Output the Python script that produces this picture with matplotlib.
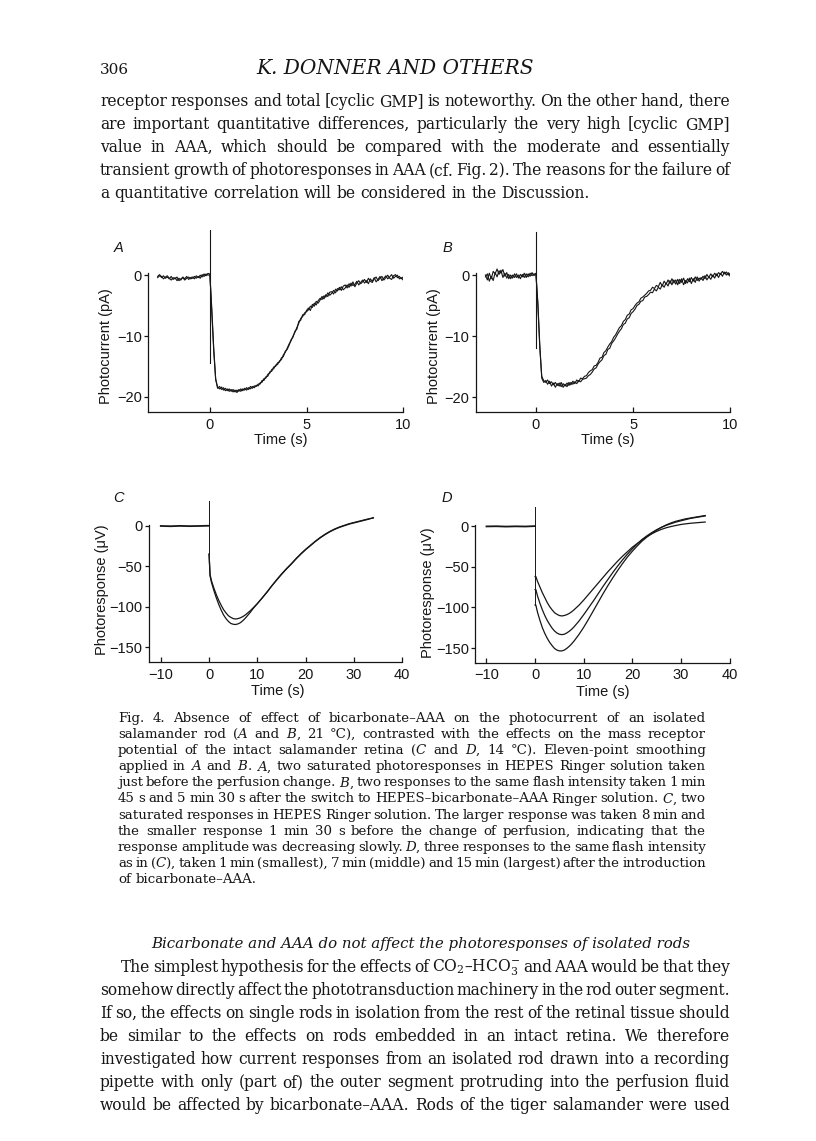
import numpy as np
import matplotlib
matplotlib.use('Agg')
import matplotlib.pyplot as plt
from matplotlib.transforms import IdentityTransform

# ---------------- data ----------------
# Panel A: isolated rod, HEPES Ringer (two traces), pA
A_BASE_1 = [-0.2, 0.1, -0.4, -0.1, -0.5, -0.3, -0.6, -0.2, -0.7, -0.4, -0.9, -0.5, -0.8, -0.3,
            -0.6, -0.2, -0.7, -0.4, -0.3, -0.6, -0.1, -0.4, 0.0, -0.3, 0.2, -0.1, 0.3, 0.2]
A_BASE_2 = [-0.4, -0.1, -0.2, -0.6, -0.3, -0.1, -0.5, -0.8, -0.4, -0.6, -0.3, -0.9, -0.6, -0.4,
            -0.8, -0.5, -0.3, -0.6, -0.5, -0.2, -0.5, -0.2, -0.5, 0.1, -0.2, 0.2, 0.0, 0.1]
A_RESP_1 = [-6.0, -12.5, -17.2, -18.4, -18.7, -18.4, -18.9, -18.6, -19.0, -18.7,
            -19.1, -18.8, -19.2, -18.9, -19.1, -18.7, -19.0, -18.6, -18.9, -18.5,
            -18.7, -18.3, -18.5, -18.1, -18.2, -17.7, -17.6, -17.0, -16.9, -16.3,
            -16.1, -15.5, -15.4, -14.8, -14.7, -14.1, -13.9, -13.1, -12.7, -12.0,
            -11.3, -10.8, -10.0, -9.4, -8.6, -7.9, -7.1, -6.8, -6.2, -6.0,
            -5.7, -5.1, -5.3, -4.6, -4.9, -4.2, -3.8, -4.0, -3.4, -3.6,
            -2.9, -3.3, -3.0, -2.5, -2.9, -2.2, -2.4, -1.9, -2.4, -2.1,
            -1.6, -2.0, -1.3, -1.7, -1.5, -1.0, -1.6, -1.2, -0.8, -1.3,
            -0.9, -1.4, -0.6, -1.0, -0.4, -1.1, -0.7, -0.2, -0.9, -0.5,
            -0.1, -0.6, -0.3, 0.1, -0.5, -0.2, 0.0, -0.6, -0.4, -0.8]
A_RESP_2 = [-5.5, -12.0, -17.0, -18.6, -18.3, -18.8, -18.5, -19.0, -18.7, -19.1,
            -18.8, -19.2, -18.9, -19.3, -18.8, -19.1, -18.7, -18.9, -18.5, -18.8,
            -18.3, -18.6, -18.2, -18.3, -17.9, -17.9, -17.3, -17.3, -16.7, -16.6,
            -15.9, -15.8, -15.1, -15.0, -14.4, -14.3, -13.6, -13.4, -12.5, -12.2,
            -11.5, -10.6, -10.2, -9.2, -8.9, -7.6, -7.4, -6.5, -6.5, -5.8,
            -5.4, -5.8, -4.8, -5.1, -4.3, -4.6, -4.1, -3.5, -3.9, -3.2,
            -3.5, -2.8, -2.7, -3.1, -2.3, -2.6, -2.0, -2.5, -1.8, -1.6,
            -2.1, -1.4, -1.8, -1.1, -1.9, -1.3, -0.9, -1.4, -1.1, -0.7,
            -1.2, -0.5, -1.0, -1.2, -0.6, -0.3, -0.9, -0.5, -0.2, -0.8,
            -0.4, 0.0, -0.5, -0.7, -0.1, 0.1, -0.4, -0.2, -0.6, -0.3]
A_BASE_START, A_END = -2.7, 10.0
A_ARTIFACT = [7.5, -14.5]

# Panel B: after switch to HEPES-bicarbonate-AAA (two traces), pA
B_BASE_1 = [0.0, -0.8, 0.3, -0.6, 0.6, 0.2, 1.0, 0.1, 0.8, -0.4, 0.3, -0.5, 0.1, -0.6,
            0.0, -0.4, 0.2, -0.5, 0.1, -0.3, 0.3, -0.4, 0.2, -0.2, 0.4, -0.1, 0.3]
B_BASE_2 = [-0.3, 0.2, -1.0, -0.2, -0.9, 0.4, -0.3, 0.7, 0.3, 0.9, -0.2, 0.4, -0.6, 0.0,
            -0.5, 0.2, -0.4, 0.0, -0.6, 0.1, -0.4, 0.2, -0.3, 0.3, -0.1, 0.2, 0.1]
B_RESP_1 = [-5.0, -12.0, -16.6, -17.3, -17.6, -17.2, -17.8, -17.5, -18.0, -17.6,
            -18.1, -17.7, -18.3, -17.8, -18.2, -17.7, -18.1, -17.6, -17.9, -17.5,
            -17.8, -17.3, -17.5, -17.1, -17.0, -16.9, -16.5, -16.3, -15.9, -15.4,
            -15.2, -14.6, -14.2, -13.9, -13.2, -13.0, -12.2, -12.0, -11.2, -10.8,
            -10.3, -9.7, -9.2, -8.8, -8.1, -7.9, -7.2, -7.0, -6.3, -6.0,
            -5.6, -5.0, -4.8, -4.3, -4.2, -3.6, -3.5, -3.2, -2.8, -2.9,
            -2.3, -2.6, -2.0, -2.3, -1.6, -2.0, -1.3, -1.8, -0.9, -1.6,
            -0.8, -1.5, -0.7, -1.4, -0.6, -1.6, -0.9, -1.3, -0.5, -1.4,
            -0.6, -1.2, -0.3, -1.0, -0.4, -0.9, -0.1, -0.8, -0.3, -0.7,
            0.0, -0.5, 0.2, -0.4, 0.3, -0.2, 0.5, 0.0, 0.4, -0.2]
B_RESP_2 = [-4.5, -11.5, -16.9, -17.6, -17.3, -17.9, -17.4, -18.2, -17.7, -18.4,
            -17.8, -18.2, -17.6, -18.4, -17.9, -18.3, -17.6, -18.0, -17.4, -17.8,
            -17.2, -17.5, -16.9, -17.0, -16.6, -16.5, -16.0, -15.7, -15.5, -14.9,
            -14.8, -14.3, -13.6, -13.5, -12.7, -12.4, -11.8, -11.3, -10.9, -10.2,
            -9.8, -9.2, -8.6, -8.3, -7.6, -7.3, -6.6, -6.4, -5.7, -5.5,
            -5.0, -4.6, -4.4, -3.8, -3.6, -3.3, -3.0, -2.6, -2.5, -2.0,
            -2.2, -1.7, -1.9, -1.2, -1.8, -1.0, -1.5, -0.8, -1.4, -0.6,
            -1.3, -0.8, -1.6, -0.7, -1.2, -0.5, -1.4, -0.6, -1.1, -0.4,
            -1.0, -0.3, -0.9, -0.5, -0.7, -0.2, -0.6, 0.1, -0.4, 0.2,
            -0.3, 0.3, -0.1, 0.4, 0.1, 0.6, 0.2, 0.5, 0.0, 0.3]
B_BASE_START, B_END = -2.6, 10.0
B_ARTIFACT = [7.0, -11.9]

# Panel C: mass receptor potential, HEPES Ringer (two responses), uV
C_BASE_T = [-10, -8, -6, -4, -2, 0]
C_BASE_V = [-0.3, -0.6, -0.2, -0.5, -0.3, 0.0]
C_T = [0.0, 0.2, 0.5, 1, 1.5, 2, 2.5, 3, 3.5, 4, 4.5, 5, 5.5, 6, 6.5, 7, 7.5, 8, 8.5, 9, 9.5, 10,
       11, 12, 13, 14, 15, 16, 17, 18, 19, 20, 21, 22, 23, 24, 25, 26, 27, 28, 29, 30, 31, 32, 33, 34]
C_LARGE = [-35, -62, -70, -80, -89, -97, -104, -110, -114.5, -118, -120.5, -121.5, -121.8, -121,
           -119.5, -117, -114, -110.5, -107, -103, -99.5, -96, -89, -82, -74, -67, -60, -53.5, -47.5,
           -41, -35, -29.5, -24.5, -19.5, -15, -11, -7.5, -4.5, -2, 0, 2, 3.5, 5, 6.5, 8, 10]
C_SMALL = [-35, -60, -68, -77, -85, -92, -98, -103.5, -107.5, -111, -113, -114.5, -115, -114.5,
           -113.5, -112, -110, -107.5, -105, -102, -99, -96, -89, -81.5, -74, -66.5, -59.5, -53,
           -47, -40.5, -34.5, -29, -24, -19, -14.5, -10.5, -7, -4, -1.5, 0.5, 2.5, 4, 5.5, 7, 8.5, 9.5]
C_ARTIFACT = [31, -35]

# Panel D: after bicarbonate-AAA, 1 min (smallest), 7 min (middle), 15 min (largest), uV
D_BASE_T = [-10, -8, -6, -4, -2, 0]
D_BASE_V = [-0.4, -0.2, -0.6, -0.3, -0.5, 0.0]
D_T = [0.15, 0.5, 1, 1.5, 2, 2.5, 3, 3.5, 4, 4.5, 5, 5.5, 6, 6.5, 7, 7.5, 8, 9, 10, 11, 12, 13,
       14, 15, 16, 17, 18, 19, 20, 21, 22, 23, 24, 25, 26, 27, 28, 29, 30, 31, 32, 33, 34, 35]
D_1MIN = [-62, -68, -75, -82, -88, -94, -99, -103, -106.5, -108.5, -110, -110.5, -110, -109,
          -107.5, -105.5, -103, -97.5, -91, -84, -77, -70, -63, -56, -49.5, -43, -37, -31.5, -26,
          -21.5, -17, -13, -9.5, -6.5, -4, -2, -0.5, 0.8, 2, 2.8, 3.5, 4, 4.5, 5]
D_7MIN = [-78, -86, -95, -103, -110, -116, -121, -125.5, -129, -131.5, -133, -133.5, -133, -131.5,
          -129.5, -127, -124, -117, -109, -100.5, -92, -83, -74, -65.5, -57, -49, -41.5, -34.5,
          -28, -22, -16.5, -12, -8, -4.5, -1.5, 1, 3, 5, 6.5, 8, 9.5, 10.5, 11.5, 12.5]
D_15MIN = [-97, -106, -116, -125, -132, -138, -143, -147, -150.5, -152.5, -153.5, -153.5, -152.5,
           -150.5, -148, -145, -141.5, -133.5, -124.5, -114.5, -104, -93.5, -83, -73, -63.5, -54.5,
           -46, -38, -31, -24.5, -18.5, -13.5, -9, -5, -1.5, 1.5, 4, 6, 7.5, 9, 10, 11, 12, 13]
D_ARTIFACT = [23, -97]

AB_XTICKS = [0, 5, 10]
AB_YTICKS = [0, -10, -20]
CD_XTICKS = [-10, 0, 10, 20, 30, 40]
CD_YTICKS = [0, -50, -100, -150]

# ---------------- text ----------------
HEADER_NUM = "306"
HEADER_TITLE = "K. DONNER AND OTHERS"
TOP_LINES = [
    "receptor responses and total [cyclic GMP] is noteworthy. On the other hand, there",
    "are important quantitative differences, particularly the very high [cyclic GMP]",
    "value in AAA, which should be compared with the moderate and essentially",
    "transient growth of photoresponses in AAA (cf. Fig. 2). The reasons for the failure of",
    "a quantitative correlation will be considered in the Discussion.",
]
CAPTION_LINES = [
    "Fig. 4. Absence of effect of bicarbonate\u2013AAA on the photocurrent of an isolated",
    "salamander rod ($A$ and $B$, 21 \u00b0C), contrasted with the effects on the mass receptor",
    "potential of the intact salamander retina ($C$ and $D$, 14 \u00b0C). Eleven-point smoothing",
    "applied in $A$ and $B$. $A$, two saturated photoresponses in HEPES Ringer solution taken",
    "just before the perfusion change. $B$, two responses to the same flash intensity taken 1 min",
    "45 s and 5 min 30 s after the switch to HEPES\u2013bicarbonate\u2013AAA Ringer solution. $C$, two",
    "saturated responses in HEPES Ringer solution. The larger response was taken 8 min and",
    "the smaller response 1 min 30 s before the change of perfusion, indicating that the",
    "response amplitude was decreasing slowly. $D$, three responses to the same flash intensity",
    "as in ($C$), taken 1 min (smallest), 7 min (middle) and 15 min (largest) after the introduction",
    "of bicarbonate\u2013AAA.",
]
HEADING = "Bicarbonate and AAA do not affect the photoresponses of isolated rods"
BOTTOM_LINES = [
    "The simplest hypothesis for the effects of CO$_2$\u2013HCO$_3^{-}$ and AAA would be that they",
    "somehow directly affect the phototransduction machinery in the rod outer segment.",
    "If so, the effects on single rods in isolation from the rest of the retinal tissue should",
    "be similar to the effects on rods embedded in an intact retina. We therefore",
    "investigated how current responses from an isolated rod drawn into a recording",
    "pipette with only (part of) the outer segment protruding into the perfusion fluid",
    "would be affected by bicarbonate\u2013AAA. Rods of the tiger salamander were used",
]

# ---------------- figure ----------------
W, H = 816, 1141
plt.rcParams['mathtext.fontset'] = 'dejavuserif'
SANS = 'Liberation Sans'
SERIF = 'DejaVu Serif'
INK = '#161616'

fig = plt.figure(figsize=(W / 100, H / 100), dpi=100)
fig.patch.set_facecolor('white')


def panel(left, right, bottom, top):
    return fig.add_axes([left / W, 1 - bottom / H, (right - left) / W, (bottom - top) / H])


def style(ax, xlim, ylim, yspine_top, xticks, yticks):
    ax.set_xlim(xlim)
    ax.set_ylim(ylim)
    ax.patch.set_visible(False)
    for s in ('top', 'right'):
        ax.spines[s].set_visible(False)
    for s in ('left', 'bottom'):
        ax.spines[s].set_linewidth(0.9)
        ax.spines[s].set_color(INK)
    ax.spines['left'].set_bounds(ylim[0], yspine_top)
    ax.spines['bottom'].set_bounds(xlim[0], xlim[1])
    ax.set_xticks(xticks)
    ax.set_yticks(yticks)
    ax.tick_params(axis='x', direction='in', length=3.5, width=0.9, pad=4, labelsize=10.5, colors=INK)
    ax.tick_params(axis='y', direction='out', length=3, width=0.9, pad=1.5, labelsize=10.5, colors=INK)
    for lab in ax.get_xticklabels() + ax.get_yticklabels():
        lab.set_family(SANS)


def trace(ax, base_start, base, resp, end, **kw):
    tb = np.linspace(base_start, 0.0, len(base))
    tr = np.linspace(0.1, end, len(resp))
    ax.plot(np.concatenate([tb, tr]), np.concatenate([base, resp]), **kw)


LW = dict(color=INK, lw=0.8, solid_joinstyle='round')

# A
axA = panel(148, 403.2, 412, 229.6)
style(axA, (-3.2, 10), (-22.5, 7.5), 0.3, AB_XTICKS, AB_YTICKS)
axA.plot([0, 0], A_ARTIFACT, color=INK, lw=0.8)
trace(axA, A_BASE_START, A_BASE_1, A_RESP_1, A_END, **LW)
trace(axA, A_BASE_START, A_BASE_2, A_RESP_2, A_END, **LW)

# B
axB = panel(475.7, 730.2, 412.3, 229.3)
style(axB, (-3.1, 10), (-22.5, 7.5), 0.3, AB_XTICKS, AB_YTICKS)
axB.plot([0, 0], B_ARTIFACT, color=INK, lw=0.8)
trace(axB, B_BASE_START, B_BASE_1, B_RESP_1, B_END, **LW)
trace(axB, B_BASE_START, B_BASE_2, B_RESP_2, B_END, **LW)

# C
axC = panel(148.7, 402.3, 662.3, 493.3)
style(axC, (-12.5, 40), (-168.4, 40), 1.0, CD_XTICKS, CD_YTICKS)
axC.plot(C_BASE_T, C_BASE_V, color=INK, lw=1.3)
axC.plot([0, 0], C_ARTIFACT, color=INK, lw=0.7)
axC.plot(C_T, C_LARGE, color=INK, lw=0.9)
axC.plot(C_T, C_SMALL, color=INK, lw=0.9)

# D
axD = panel(475.3, 729.5, 662.7, 501.7)
style(axD, (-12.3, 40), (-168, 30), 1.0, CD_XTICKS, CD_YTICKS)
axD.plot(D_BASE_T, D_BASE_V, color=INK, lw=1.3)
axD.plot([0, 0], D_ARTIFACT, color=INK, lw=0.7)
for ys in (D_1MIN, D_7MIN, D_15MIN):
    axD.plot([0.0] + D_T, [ys[0]] + ys, color=INK, lw=0.9)

PX = IdentityTransform()


def ftext(x, y, s, **kw):
    return fig.text(x, H - y, s, transform=PX, **kw)


# panel letters, axis labels
for (x, y, s) in [(119, 248, 'A'), (447, 248, 'B'), (118, 498, 'C'), (447, 498, 'D')]:
    ftext(x, y, s, family=SANS, style='italic', fontsize=10.5, ha='center', va='center', color=INK)
for (x, y) in [(281, 440), (608, 440), (278, 691), (603, 692)]:
    ftext(x, y, 'Time (s)', family=SANS, fontsize=10.5, ha='center', va='center', color=INK)
for (x, y) in [(106, 346), (434, 346)]:
    ftext(x, y, 'Photocurrent (pA)', family=SANS, fontsize=10.5, rotation=90, ha='center', va='center', color=INK)
for (x, y) in [(102, 590), (428, 593)]:
    ftext(x, y, 'Photoresponse (\u03bcV)', family=SANS, fontsize=10.5, rotation=90, ha='center', va='center', color=INK)

# ---------------- page text ----------------
renderer = fig.canvas.get_renderer()


def text_line(s, x0, x1, ybase, size, justify=True, style='normal'):
    words = s.split(' ')
    ts = [ftext(0, 0, w, family=SERIF, fontsize=size, style=style, va='baseline', ha='left', color=INK)
          for w in words]
    widths = [t.get_window_extent(renderer).width for t in ts]
    if justify and len(words) > 1:
        gap = (x1 - x0 - sum(widths)) / (len(words) - 1)
    else:
        gap = size * 0.32 * 100 / 72
    x = x0
    for t, w in zip(ts, widths):
        t.set_position((x, H - ybase))
        x += w + gap


ftext(100, 74, HEADER_NUM, family=SERIF, fontsize=11, va='baseline', ha='left', color=INK)
ftext(395, 74, HEADER_TITLE, family=SERIF, fontsize=14.5, style='italic', va='baseline', ha='center', color=INK)

BODY_FS = 11.2
for i, s in enumerate(TOP_LINES):
    text_line(s, 100, 730, 106 + 23 * i, BODY_FS, justify=(i < len(TOP_LINES) - 1))

CAP_FS = 9.6
for i, s in enumerate(CAPTION_LINES):
    text_line(s, 118, 706, 722 + 16.1 * i, CAP_FS, justify=(i < len(CAPTION_LINES) - 1))

ftext(421, 948, HEADING, family=SERIF, fontsize=10.8, style='italic', va='baseline', ha='center', color=INK)

for i, s in enumerate(BOTTOM_LINES):
    x0 = 121 if i == 0 else 100
    text_line(s, x0, 730, 972 + 23 * i, BODY_FS, justify=True)

fig.savefig('out.png', dpi=100, facecolor='white')
